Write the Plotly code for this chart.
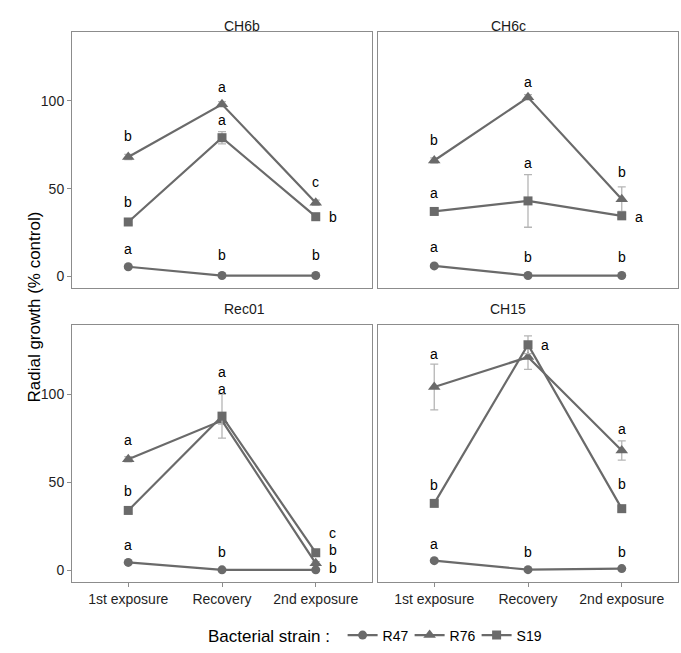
import plotly.graph_objects as go

W, H = 681, 653

exposures = ["1st exposure", "Recovery", "2nd exposure"]
strains = ["R47", "R76", "S19"]
panels = ["CH6b", "CH6c", "Rec01", "CH15"]

# mean radial growth (% control)
ch6b_R47 = [5.5, 0.5, 0.5]
ch6b_R76 = [68, 98, 42]
ch6b_S19 = [31, 79, 34]
ch6c_R47 = [6, 0.5, 0.5]
ch6c_R76 = [66, 102, 44]
ch6c_S19 = [37, 43, 34.5]
rec01_R47 = [4.5, 0.3, 0.3]
rec01_R76 = [63, 85, 4]
rec01_S19 = [34, 87.5, 10]
ch15_R47 = [5.5, 0.4, 1]
ch15_R76 = [104, 121, 68]
ch15_S19 = [38, 128, 35]

# standard errors
ch6b_R47_se = [0.8, 0.2, 0.2]
ch6b_R76_se = [1.5, 1.5, 1.5]
ch6b_S19_se = [1.5, 3.5, 1.5]
ch6c_R47_se = [0.8, 0.2, 0.2]
ch6c_R76_se = [1.5, 1.5, 7]
ch6c_S19_se = [1.5, 15, 1.5]
rec01_R47_se = [0.5, 0.2, 0.2]
rec01_R76_se = [1.5, 2, 1]
rec01_S19_se = [1.5, 12.5, 1.5]
ch15_R47_se = [0.5, 0.2, 0.3]
ch15_R76_se = [13, 7, 5.5]
ch15_S19_se = [1.5, 5, 1.5]

# significance letters and their heights (data units)
ch6b_R47_let = ["a", "b", "b"]; ch6b_R47_ly = [15.5, 12, 12]
ch6b_R76_let = ["b", "a", "c"]; ch6b_R76_ly = [80, 108, 54]
ch6b_S19_let = ["b", "a", "b"]; ch6b_S19_ly = [42.5, 89, 34]
ch6c_R47_let = ["a", "b", "b"]; ch6c_R47_ly = [16.5, 11, 11]
ch6c_R76_let = ["b", "a", "b"]; ch6c_R76_ly = [77.5, 111, 59.5]
ch6c_S19_let = ["a", "a", "a"]; ch6c_S19_ly = [47.5, 64.5, 33.6]
rec01_R47_let = ["a", "b", "b"]; rec01_R47_ly = [14.6, 10.4, 1.3]
rec01_R76_let = ["a", "a", "b"]; rec01_R76_ly = [74, 102.8, 11.4]
rec01_S19_let = ["b", "a", "c"]; rec01_S19_ly = [45, 112.3, 21.3]
ch15_R47_let = ["a", "b", "b"]; ch15_R47_ly = [15, 10.2, 10.2]
ch15_R76_let = ["a", "a", "a"]; ch15_R76_ly = [123, 200, 80.3]
ch15_S19_let = ["b", "a", "b"]; ch15_S19_ly = [48.5, 128, 49]
# labels drawn beside (right of) the point instead of above
right_side = [("CH6b", "S19", 2), ("CH6c", "S19", 2), ("Rec01", "R47", 2),
              ("Rec01", "R76", 2), ("Rec01", "S19", 2), ("CH15", "S19", 1)]
hidden = [("CH15", "R76", 1)]

g = globals()
prefix = {"CH6b": "ch6b", "CH6c": "ch6c", "Rec01": "rec01", "CH15": "ch15"}
symbols = {"R47": "circle", "R76": "triangle-up", "S19": "square"}
msize = {"R47": 9, "R76": 11, "S19": 9}

# panel boxes in pixels (x0, x1, y0, y1)
boxes = {
    "CH6b": (72, 372, 32, 288),
    "CH6c": (378, 678, 32, 288),
    "Rec01": (72, 372, 325, 582),
    "CH15": (378, 678, 325, 582),
}

LINE = "#6a6a6a"
BORDER = "#8c8c8c"
FONT = "Liberation Sans, Arial, sans-serif"

fig = go.Figure()
annotations = []
layout = {}
for i, p in enumerate(panels):
    n = "" if i == 0 else str(i + 1)
    xa, ya = "x" + n, "y" + n
    x0, x1, y0, y1 = boxes[p]
    for s in strains:
        key = prefix[p] + "_" + s
        fig.add_trace(go.Scatter(
            x=list(range(3)), y=g[key], xaxis=xa, yaxis=ya,
            mode="lines+markers", name=s, legendgroup=s, showlegend=(i == 0),
            line=dict(color=LINE, width=2.2),
            marker=dict(symbol=symbols[s], size=msize[s], color=LINE),
            error_y=dict(type="data", array=g[key + "_se"], color="#b5b5b5",
                         thickness=1.3, width=4),
        ))
        for j in range(3):
            if (p, s, j) in hidden:
                continue
            side = (p, s, j) in right_side
            annotations.append(dict(
                x=j, y=g[key + "_ly"][j], xref=xa, yref=ya,
                text=g[key + "_let"][j], showarrow=False,
                xshift=17 if side else 0,
                font=dict(family=FONT, size=14, color="black"),
            ))
    bottom = p in ("Rec01", "CH15")
    left = p in ("CH6b", "Rec01")
    layout["xaxis" + n] = dict(
        domain=[x0 / W, x1 / W], anchor=ya, range=[-0.6, 2.6],
        tickvals=[0, 1, 2], ticktext=exposures,
        showticklabels=bottom, ticks="outside" if bottom else "",
        ticklen=4, tickcolor=BORDER, tickwidth=1,
        showline=True, mirror=True, linecolor=BORDER, linewidth=1,
        showgrid=False, zeroline=False, fixedrange=True,
        tickfont=dict(family=FONT, size=14, color="#1f1f1f"),
    )
    layout["yaxis" + n] = dict(
        domain=[1 - y1 / H, 1 - y0 / H], anchor=xa, range=[-6.6, 139.2],
        tickvals=[0, 50, 100], showticklabels=left,
        ticks="outside" if left else "", ticklen=4, tickcolor=BORDER,
        tickwidth=1, showline=True, mirror=True, linecolor=BORDER,
        linewidth=1, showgrid=False, zeroline=False,
        tickfont=dict(family=FONT, size=14, color="#1f1f1f"),
    )
    annotations.append(dict(
        x=(x0 + x1) / 2 / W, y=1 - (y0 - 16) / H, xref="paper", yref="paper",
        text=p, showarrow=False, font=dict(family=FONT, size=14, color="#1a1a1a"),
    ))

annotations.append(dict(
    x=22 / W, y=1 - 307 / H, xref="paper", yref="paper",
    text="Radial growth (% control)", textangle=-90, showarrow=False,
    font=dict(family=FONT, size=17, color="black"),
))

fig.update_layout(
    width=W, height=H, margin=dict(l=0, r=0, t=0, b=0),
    paper_bgcolor="white", plot_bgcolor="white",
    annotations=annotations,
    legend=dict(
        orientation="h", x=375 / W, xanchor="center", y=1 - 636 / H,
        yanchor="middle", itemwidth=30, entrywidth=22, entrywidthmode="pixels",
        title=dict(text="Bacterial strain : ", side="left",
                   font=dict(family=FONT, size=17, color="black")),
        font=dict(family=FONT, size=14, color="black"),
    ),
    **layout,
)

fig.write_html("out.html")
